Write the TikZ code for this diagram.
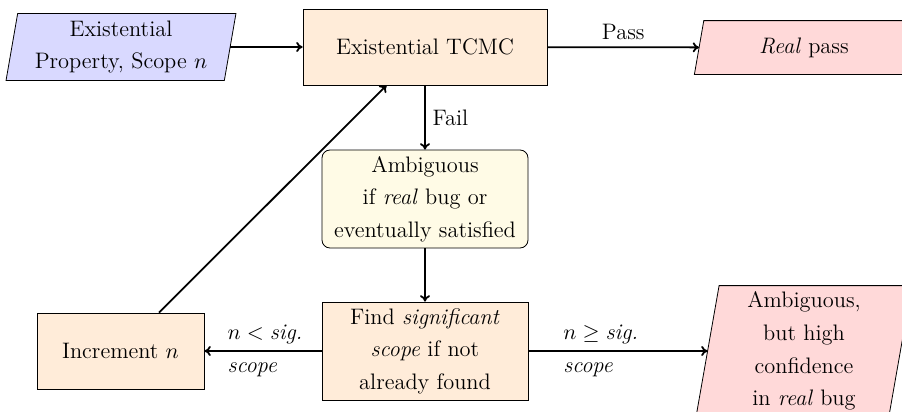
\documentclass[tikz,border=0pt]{standalone}
\usetikzlibrary{backgrounds,arrows.meta}
\definecolor{creamfill}{RGB}{255,251,230}
% slanted (parallelogram) outline around a plain rectangular node
\newcommand\slantbox[3]{%
  \draw[fill=#3] ([xshift=#2]#1.north west) -- ([xshift=#2]#1.north east)
    -- ([xshift=-#2]#1.south east) -- ([xshift=-#2]#1.south west) -- cycle;}
\begin{document}
\begin{tikzpicture}[x=0.5pt,y=-0.5pt,
  every node/.style={font=\fontsize{11.2}{16.3}\selectfont},
  procbox/.style={draw=black, fill=orange!15, inner sep=0pt, align=center},
  ioshape/.style={inner sep=0pt, align=center},
  flow/.style={-{To[length=3.2pt,width=5pt]}, line width=0.9pt},
  lbl/.style={inner sep=0pt, align=left}]
\useasboundingbox (0,0) rectangle (902,412);
\clip (0,0) rectangle (902,412);

% input / output parallelograms (text holders)
\node[ioshape, minimum width=108.75pt, minimum height=33pt] (inp) at (121,47)
  {Existential\\Property, Scope $n$};
\node[ioshape, minimum width=104.5pt, minimum height=26.5pt] (pass) at (804,47.5)
  {\textit{Real} pass};
\node[ioshape, minimum width=96pt, minimum height=65pt] (bug) at (804,351)
  {Ambiguous,\\but high\\confidence\\in \textit{real} bug};

% process boxes
\node[procbox, minimum width=122pt, minimum height=38pt] (tcmc) at (425,47)
  {Existential TCMC};
\node[procbox, fill=creamfill, rounded corners=4pt, minimum width=103pt, minimum height=49pt] (amb) at (425,199)
  {Ambiguous\\if \textit{real} bug or\\eventually satisfied};
\node[procbox, minimum width=103pt, minimum height=49pt] (find) at (425,351)
  {Find \textit{significant}\\\textit{scope} if not\\already found};
\node[procbox, minimum width=83.5pt, minimum height=38pt] (incr) at (120.5,351)
  {Increment $n$};

\begin{scope}[on background layer]
  \slantbox{inp}{2.9pt}{blue!15}
  \slantbox{pass}{2.35pt}{red!15}
  \slantbox{bug}{5.75pt}{red!15}
\end{scope}

% connectors
\draw[flow] (inp) -- (tcmc);
\draw[flow] (tcmc) -- node[above] {Pass} (pass);
\draw[flow] (tcmc) -- node[right] {Fail} (amb);
\draw[flow] (amb) -- (find);
\draw[flow] (find) -- node[lbl, pos=0.81, anchor=west] {$n < \textit{sig.}$\\\textit{scope}} (incr);
\draw[flow] (find) -- node[lbl, pos=0.19, anchor=west] {$n \geq \textit{sig.}$\\\textit{scope}} (bug);
\draw[flow] (incr) -- (tcmc);
\end{tikzpicture}
\end{document}
